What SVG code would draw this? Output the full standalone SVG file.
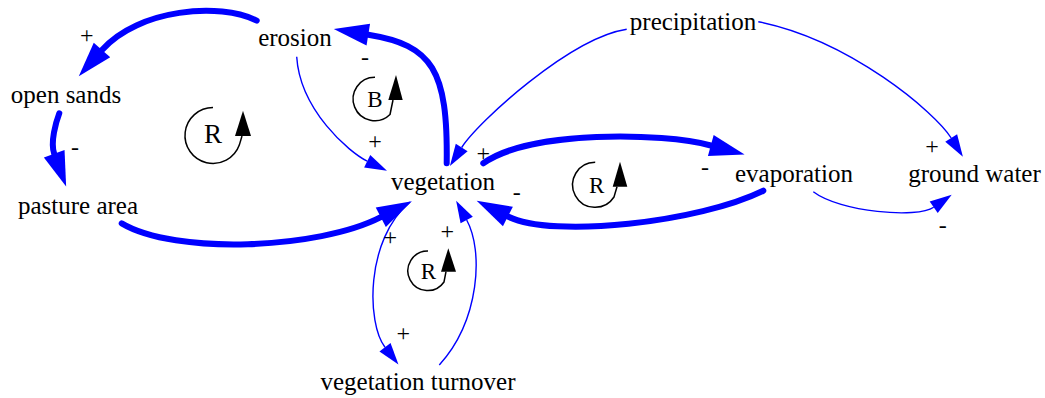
<svg xmlns="http://www.w3.org/2000/svg" width="1045" height="398" viewBox="0 0 1045 398">
<style>
.node{font-family:"Liberation Serif","Times New Roman",serif;font-size:25px;fill:#000;text-anchor:middle}
.sign{font-family:"Liberation Serif","Times New Roman",serif;font-size:24px;fill:#000;text-anchor:middle}
.thick{fill:none;stroke:#0000FF;stroke-width:6;stroke-linecap:round}
.thin{fill:none;stroke:#0000FF;stroke-width:1.4}
.loop{fill:none;stroke:#000;stroke-width:1.5}
.loophead{fill:#000}
.looptxt{font-family:"Liberation Serif","Times New Roman",serif;fill:#000;text-anchor:middle}
</style>
<defs>
<marker id="ahThick" markerUnits="userSpaceOnUse" orient="auto" markerWidth="36" markerHeight="22" refX="0" refY="11" overflow="visible">
<path d="M0,0 L35,11 L0,22 Z" fill="#0000FF"/>
</marker>
<marker id="ahThin" markerUnits="userSpaceOnUse" orient="auto" markerWidth="23" markerHeight="14" refX="0" refY="7" overflow="visible">
<path d="M0,0 L22,7 L0,14 Z" fill="#0000FF"/>
</marker>
</defs>
<rect width="1045" height="398" fill="#fff"/>
<g id="connectors">
<path class="thick" d="M256.7,20.7 C220,2 138.5,8.8 102,50" marker-end="url(#ahThick)"/>
<path class="thick" d="M59.3,113.3 C56,122 50.1,142.4 54.2,153.7" marker-end="url(#ahThick)"/>
<path class="thick" d="M121.7,223.3 C175,255 318.6,249.3 380.8,217.2" marker-end="url(#ahThick)"/>
<path class="thick" d="M446.7,163.3 C448,70 432.5,45.1 368.3,34.7" marker-end="url(#ahThick)"/>
<path class="thin" d="M296.7,56.7 C300,110 349.2,152.4 367.2,161.2" marker-end="url(#ahThin)"/>
<path class="thin" d="M626.7,29.3 C570,38 477.8,122.2 461.7,147.5" marker-end="url(#ahThin)"/>
<path class="thin" d="M758.3,21.7 C850,40 935.3,112.6 951.2,138" marker-end="url(#ahThin)"/>
<path class="thick" d="M483.3,163.3 C530,130 662.6,132.5 710.8,145.5" marker-end="url(#ahThick)"/>
<path class="thick" d="M763.3,190.7 C700,222 552.4,239 507.9,216.5" marker-end="url(#ahThick)"/>
<path class="thin" d="M813.3,191.7 C840,212 917.3,218.8 933.7,207.3" marker-end="url(#ahThin)"/>
<path class="thin" d="M410,202 C365,240 366.7,323.5 385,347.2" marker-end="url(#ahThin)"/>
<path class="thin" d="M439.3,365 C480,320 483.5,250.7 466.7,220" marker-end="url(#ahThin)"/>
</g>
<g id="signs">
<text class="sign" x="86.7" y="43.3">+</text>
<text class="sign" x="75" y="155.4">-</text>
<text class="sign" x="365" y="64.7">-</text>
<text class="sign" x="375" y="149.3">+</text>
<text class="sign" x="483.3" y="161">+</text>
<text class="sign" x="516.7" y="200.4">-</text>
<text class="sign" x="705" y="174.7">-</text>
<text class="sign" x="932" y="154">+</text>
<text class="sign" x="942.7" y="233.1">-</text>
<text class="sign" x="390.3" y="245.3">+</text>
<text class="sign" x="447.3" y="239.3">+</text>
<text class="sign" x="403.3" y="341">+</text>
</g>
<g id="loop-R1">
<path class="loop" d="M213,107.5 A28,28 0 1 0 239.3,145.1 L242,136"/>
<polygon class="loophead" points="235,136 251,136 243,110.7"/>
<text class="looptxt" x="213" y="143.3" font-size="27">R</text>
</g>
<g id="loop-B">
<path class="loop" d="M375,77.3 A21.7,21.7 0 1 0 390,114.5 L393,100"/>
<polygon class="loophead" points="388.3,100 402.7,100 396,75"/>
<text class="looptxt" x="375" y="106.7" font-size="23">B</text>
</g>
<g id="loop-R2">
<path class="loop" d="M595.2,162.3 A22.5,22.5 0 1 0 614,197 L617,186.7"/>
<polygon class="loophead" points="612.7,186.7 627.3,186.7 620,161.7"/>
<text class="looptxt" x="596.7" y="193.3" font-size="23">R</text>
</g>
<g id="loop-R3">
<path class="loop" d="M428,251 A19.8,19.8 0 1 0 444,282 L446,271.7"/>
<polygon class="loophead" points="441,271.7 456,271.7 448.3,248.3"/>
<text class="looptxt" x="428.3" y="279.3" font-size="23">R</text>
</g>
<g id="node-erosion"><text class="node" x="295" y="46">erosion</text></g>
<g id="node-open-sands"><text class="node" x="66" y="102.5">open sands</text></g>
<g id="node-pasture-area"><text class="node" x="78" y="214">pasture area</text></g>
<g id="node-vegetation"><text class="node" x="443" y="189.5">vegetation</text></g>
<g id="node-precipitation"><text class="node" x="693" y="30">precipitation</text></g>
<g id="node-evaporation"><text class="node" x="794" y="182">evaporation</text></g>
<g id="node-ground-water"><text class="node" x="974.5" y="182">ground water</text></g>
<g id="node-vegetation-turnover"><text class="node" x="418" y="390">vegetation turnover</text></g>
</svg>
